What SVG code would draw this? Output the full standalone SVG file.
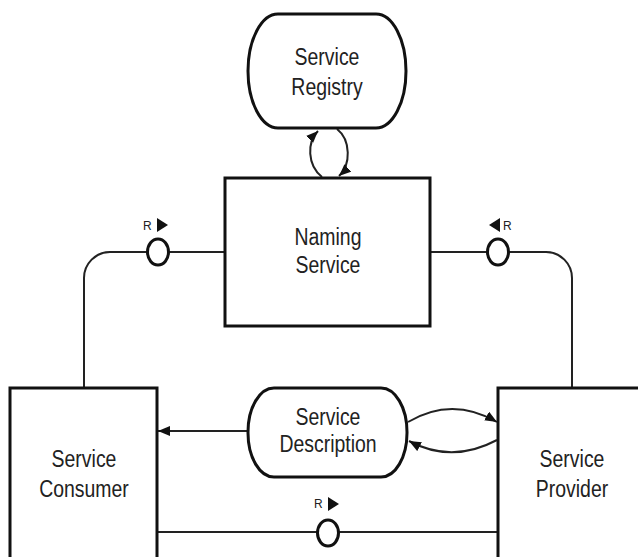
<svg xmlns="http://www.w3.org/2000/svg" width="638" height="557" viewBox="0 0 638 557">
  <style>
    .box { fill: #ffffff; stroke: #111111; stroke-width: 3; }
    .lbl { font-family: "Liberation Sans", Arial, sans-serif; font-size: 24px; fill: #222222; text-anchor: middle; }
    .wire { fill: none; stroke: #222222; stroke-width: 2; }
    .port { fill: #ffffff; stroke: #111111; stroke-width: 3; }
    .r { font-family: "Liberation Sans", Arial, sans-serif; font-size: 12px; fill: #222222; }
    .dir { fill: #111111; }
  </style>
  <defs>
    <marker id="head" viewBox="0 0 12 10" refX="12" refY="5" markerWidth="12" markerHeight="10" markerUnits="userSpaceOnUse" orient="auto">
      <path d="M0,0 L12,5 L0,10 Z" fill="#111111"/>
    </marker>
  </defs>

  <!-- connectors -->
  <g id="connectors">
    <!-- registry / naming service round trip -->
    <path class="wire" d="M322,177 C307,165 307,142 318,131" marker-end="url(#head)"/>
    <path class="wire" d="M337,129 C351,140 351,165 339,176" marker-end="url(#head)"/>
    <!-- consumer required interface to naming service -->
    <path class="wire" d="M225,252 H110 A26,26 0 0 0 84,278 V388"/>
    <!-- provider required interface to naming service -->
    <path class="wire" d="M430,252 H546 A26,26 0 0 1 572,278 V388"/>
    <!-- description to consumer -->
    <path class="wire" d="M248,431 H158" marker-end="url(#head)"/>
    <!-- description / provider exchange -->
    <path class="wire" d="M408,422 Q452,396 497,422" marker-end="url(#head)"/>
    <path class="wire" d="M497,440 Q452,464 409,441" marker-end="url(#head)"/>
    <!-- consumer to provider -->
    <path class="wire" d="M157,532 H497"/>

    <!-- interface ports -->
    <ellipse class="port" cx="158" cy="252" rx="10.5" ry="13"/>
    <text class="r" x="143" y="230">R</text>
    <path class="dir" d="M157,218 L168,225 L157,232 Z"/>

    <ellipse class="port" cx="498" cy="252" rx="10.5" ry="13"/>
    <path class="dir" d="M500,218 L489,225 L500,232 Z"/>
    <text class="r" x="503" y="230">R</text>

    <ellipse class="port" cx="328" cy="533" rx="10.5" ry="13"/>
    <text class="r" x="314" y="508">R</text>
    <path class="dir" d="M328,497 L339,504 L328,511 Z"/>
  </g>

  <g id="service-registry">
    <rect class="box" x="248" y="14" width="158" height="114" rx="30" ry="57"/>
    <text class="lbl" transform="translate(327,65) scale(0.81,1)">Service</text>
    <text class="lbl" transform="translate(327,95) scale(0.81,1)">Registry</text>
  </g>

  <g id="naming-service">
    <rect class="box" x="225" y="178" width="205" height="148"/>
    <text class="lbl" transform="translate(328,245) scale(0.81,1)">Naming</text>
    <text class="lbl" transform="translate(328,273) scale(0.81,1)">Service</text>
  </g>

  <g id="service-description">
    <rect class="box" x="248" y="388" width="159" height="89" rx="26" ry="44"/>
    <text class="lbl" transform="translate(328,425) scale(0.81,1)">Service</text>
    <text class="lbl" transform="translate(328,452) scale(0.81,1)">Description</text>
  </g>

  <g id="service-consumer">
    <rect class="box" x="10" y="388" width="147" height="200"/>
    <text class="lbl" transform="translate(84,467) scale(0.81,1)">Service</text>
    <text class="lbl" transform="translate(84,497) scale(0.81,1)">Consumer</text>
  </g>

  <g id="service-provider">
    <rect class="box" x="498" y="388" width="160" height="200"/>
    <text class="lbl" transform="translate(572,467) scale(0.81,1)">Service</text>
    <text class="lbl" transform="translate(572,497) scale(0.81,1)">Provider</text>
  </g>
</svg>
